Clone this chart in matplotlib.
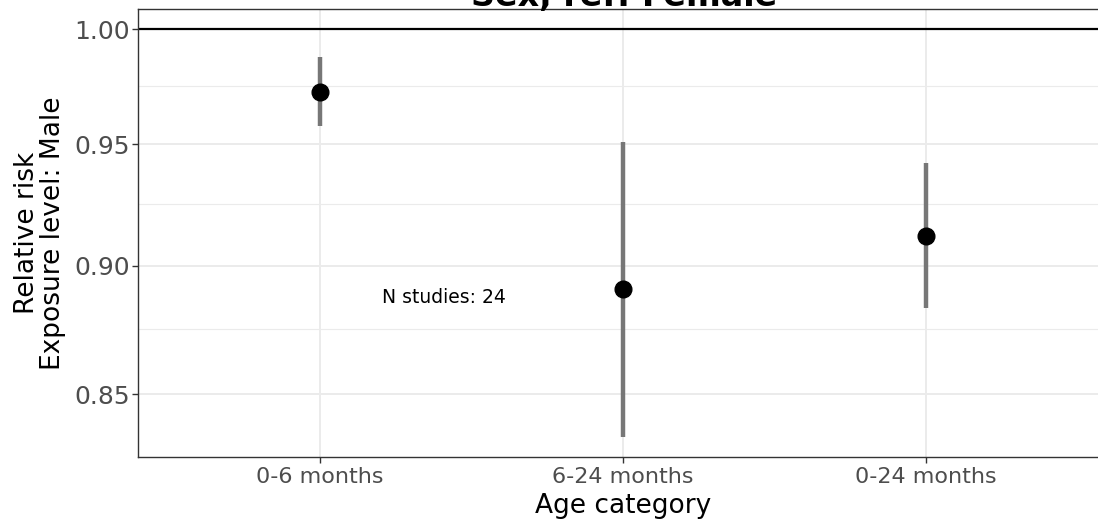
import matplotlib
matplotlib.use("Agg")
import matplotlib.pyplot as plt
from matplotlib.ticker import FixedLocator, NullFormatter

categories = ["0-6 months", "6-24 months", "0-24 months"]
rr = [0.9726, 0.8907, 0.9122]
lower = [0.9579, 0.8341, 0.8834]
upper = [0.9876, 0.9511, 0.9423]
n_studies = 24

yticks = [0.85, 0.90, 0.95, 1.00]
yminor = [0.875, 0.925, 0.975]

fig = plt.figure(figsize=(10.98, 5.19), dpi=100)
ax = fig.add_axes([138.3 / 1098, 62.3 / 519, (1108 - 138.3) / 1098, (456.7 - 9.3) / 519])

ax.set_yscale("log")
ax.set_ylim(0.8267, 1.0089)
ax.set_xlim(0.4, 3.6)

x = range(1, len(categories) + 1)

# grid like theme_bw
ax.set_axisbelow(True)
ax.yaxis.set_major_locator(FixedLocator(yticks))
ax.yaxis.set_minor_locator(FixedLocator(yminor))
ax.yaxis.set_major_formatter(plt.FixedFormatter(["%.2f" % t for t in yticks]))
ax.yaxis.set_minor_formatter(NullFormatter())
ax.grid(True, which="major", color="#EBEBEB", linewidth=1.4)
ax.grid(True, which="minor", axis="y", color="#EBEBEB", linewidth=0.8)
ax.tick_params(which="minor", length=0)

ax.axhline(1.0, color="black", linewidth=1.6, zorder=2)

ax.vlines(x, lower, upper, color="#777777", linewidth=3.2, zorder=3)
ax.plot(x, rr, "o", color="black", markersize=12, zorder=4)

ax.text(1.41, 0.8873, "N studies: %d" % n_studies, fontsize=13.5,
        ha="center", va="center", color="black")

ax.set_xticks(list(x))
ax.set_xticklabels(categories)
ax.tick_params(axis="x", labelsize=16, labelcolor="#4D4D4D", color="#333333",
               length=4, width=1)
ax.tick_params(axis="y", which="major", labelsize=18, labelcolor="#4D4D4D",
               color="#333333", length=4, width=1, pad=2)

for s in ax.spines.values():
    s.set_color("#333333")
    s.set_linewidth(1)

ax.set_xlabel("Age category", fontsize=19, labelpad=4)
ax.set_ylabel("Relative risk\nExposure level: Male", fontsize=19, labelpad=6,
              linespacing=1.0)

fig.text(624 / 1098, 1 - 6 / 519, "Sex, ref: Female", fontsize=24,
         fontweight="bold", ha="center", va="baseline")

fig.savefig("out.png", dpi=100)
